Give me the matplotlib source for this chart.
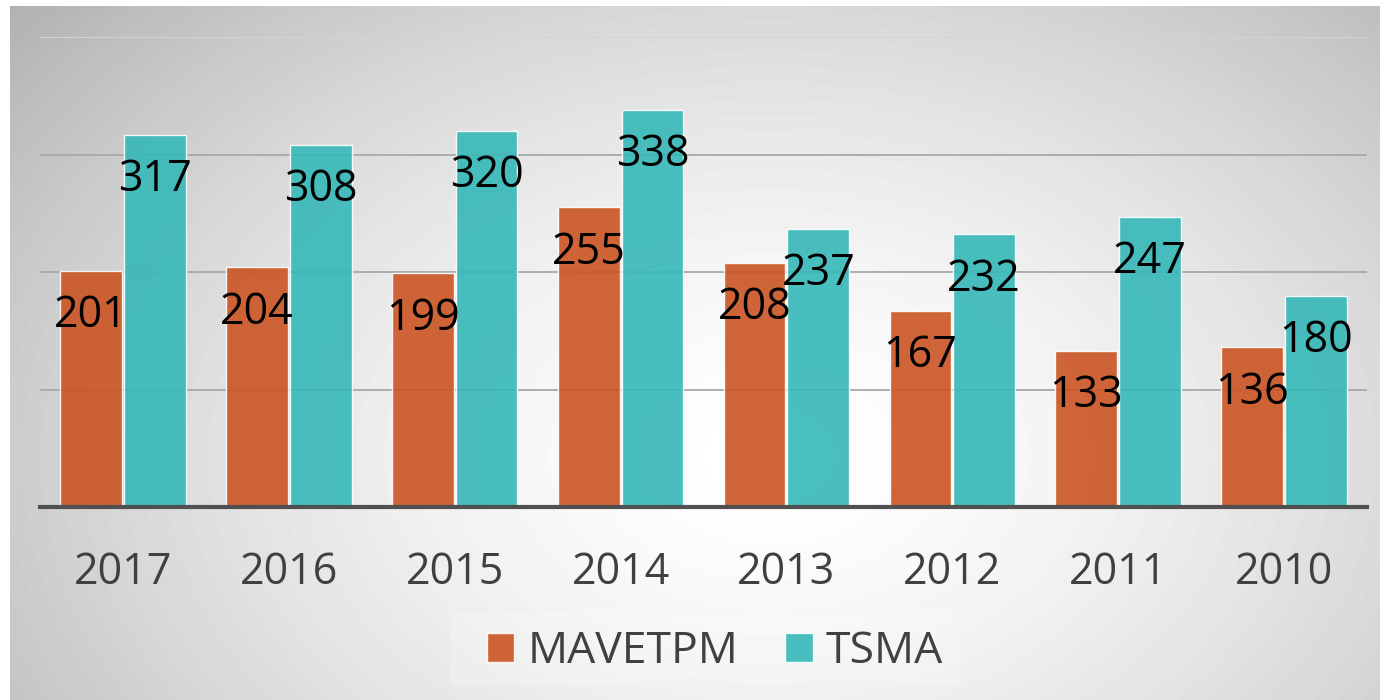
import numpy as np
import matplotlib
matplotlib.use("Agg")
import matplotlib.pyplot as plt

years = ["2017", "2016", "2015", "2014", "2013", "2012", "2011", "2010"]
mavetpm = [201, 204, 199, 255, 208, 167, 133, 136]
tsma = [317, 308, 320, 338, 237, 232, 247, 180]
series_names = ["MAVETPM", "TSMA"]

plt.rcParams['font.family'] = ['Open Sans', 'DejaVu Sans']

fig = plt.figure(figsize=(13.8, 7), dpi=100)
fig.patch.set_facecolor('white')

# Background radial gradient
bg = fig.add_axes([10 / 1380, 0, 1 - 10 / 1380, 1 - 6 / 700])
h, w = 694, 1370
yy, xx = np.mgrid[0:h, 0:w]
r = np.sqrt(((xx - 760) / 720) ** 2 + ((yy - 450) / 500) ** 2)
shade = 1 - 0.21 * np.clip(r / 1.1, 0, 1.3) ** 1.6
bg.imshow(shade, cmap='gray', vmin=0, vmax=1, aspect='auto', extent=[0, 1, 0, 1])
bg.set_axis_off()

# Legend backdrop
bg.add_patch(plt.Rectangle(((450 - 10) / 1370, (700 - 686) / 694), 510 / 1370, 74 / 694,
                           facecolor='white', alpha=0.2, edgecolor='none'))

ax = fig.add_axes([40 / 1380, 1 - 507 / 700, (1367 - 40) / 1380, (507 - 37) / 700])
ax.set_facecolor('none')

x = np.arange(len(years))
bw = 0.372
b1 = ax.bar(x - bw / 2 - 0.006, mavetpm, bw, color='#CA5422', alpha=0.9,
            edgecolor=(1, 1, 1, 0.5), linewidth=1, label=series_names[0], zorder=3)
b2 = ax.bar(x + bw / 2 + 0.006, tsma, bw, color='#36B8B8', alpha=0.9,
            edgecolor=(1, 1, 1, 0.5), linewidth=1, label=series_names[1], zorder=3)

for bars in (b1, b2):
    for rect in bars:
        ax.annotate(f"{int(rect.get_height())}",
                    (rect.get_x() + rect.get_width() / 2, rect.get_height()),
                    xytext=(0, -32.5), textcoords='offset points',
                    ha='center', va='center', fontsize=31, color='black', zorder=5)

ax.set_xlim(-0.5, len(years) - 0.5)
ax.set_ylim(0, 400)
for v in (100, 200, 300):
    ax.axhline(v, color='#a8a8a8', lw=1.3, zorder=1)
ax.axhline(400, color='#d4d4d4', lw=1.3, zorder=1)
ax.axhline(0, color='#505050', lw=3, zorder=4, clip_on=False)

ax.set_xticks(x)
ax.set_xticklabels(years, fontsize=31, color='#404040')
ax.tick_params(axis='x', length=0, pad=31)
ax.set_yticks([])
for s in ax.spines.values():
    s.set_visible(False)

fig.legend(handles=[b1, b2], labels=series_names, loc='center',
           bbox_to_anchor=(715 / 1380, 1 - 652 / 700), ncol=2, frameon=False,
           fontsize=32, labelcolor='#404040', handlelength=0.62, handleheight=0.62,
           handletextpad=0.3, columnspacing=1.05)

fig.savefig("out.png", dpi=100)
